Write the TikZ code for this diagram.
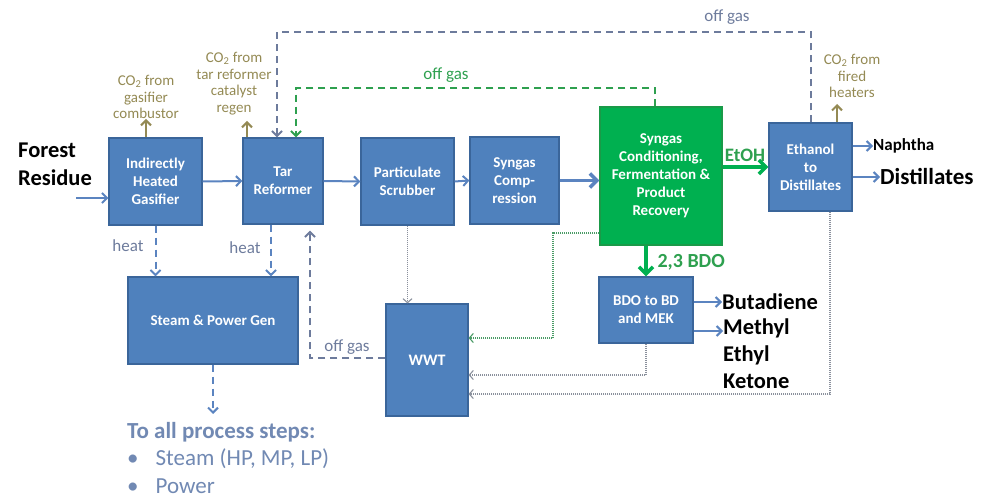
\documentclass[tikz,border=0pt]{standalone}
\usepackage{fontspec}
\setmainfont{Carlito}
\usetikzlibrary{arrows.meta}

\definecolor{boxblue}{HTML}{4F81BD}
\definecolor{boxline}{HTML}{3A659A}
\definecolor{boxgreen}{HTML}{00B050}
\definecolor{greenline}{HTML}{1A9A48}
\definecolor{flowblue}{HTML}{5B84C0}
\definecolor{gasgrey}{HTML}{6D7B9C}
\definecolor{gasgreen}{HTML}{2EA04F}
\definecolor{cotwo}{HTML}{948A54}
\definecolor{dotgrey}{HTML}{8A909C}
\definecolor{notecol}{HTML}{7189B3}

\begin{document}
\begin{tikzpicture}[x=1pt, y=-1pt,
    unit/.style={draw=boxline, line width=1.2pt, fill=boxblue, text=white,
        font=\fontsize{15}{18}\selectfont\bfseries, align=center, inner sep=0pt},
    flow/.style={draw=flowblue, line width=2pt, -{Straight Barb[length=5pt,width=10pt]}},
    bigflow/.style={line width=3.6pt, -{Straight Barb[length=7pt,width=14pt]}},
    offgas/.style={line width=2pt, dash pattern=on 7pt off 5pt, -{Straight Barb[length=5pt,width=10pt]}},
    waste/.style={draw=dotgrey, line width=1.1pt, dash pattern=on 1pt off 1pt, -{Straight Barb[length=4pt,width=9pt]}},
    emit/.style={draw=cotwo, line width=2pt, -{Straight Barb[length=5pt,width=10pt]}},
    co2note/.style={text=cotwo, font=\fontsize{15}{16.5}\selectfont, align=center, inner sep=0pt},
    gaslabel/.style={font=\fontsize{17}{20}\selectfont},
    product/.style={font=\bfseries, inner sep=0pt, anchor=west}]

    % Fix the page to the size of the reference
    \useasboundingbox (0,0) rectangle (988,502);

    % Process units (positions are the box centres)
    \node[unit, minimum width=93pt, minimum height=87pt] (gasif) at (155.5,181.5) {Indirectly\\Heated\\Gasifier};
    \node[unit, minimum width=80pt, minimum height=86pt] (tar) at (283,181) {Tar\\Reformer};
    \node[unit, minimum width=93pt, minimum height=87pt] (scrub) at (407.5,181.5) {Particulate\\Scrubber};
    \node[unit, minimum width=89pt, minimum height=87pt] (comp) at (514.5,180.5) {Syngas\\Comp-\\ression};
    \node[unit, draw=greenline, fill=boxgreen, minimum width=122pt, minimum height=138pt] (ferm) at (661,176)
        {Syngas\\Conditioning,\\Fermentation \&\\Product\\Recovery};
    \node[unit, minimum width=83pt, minimum height=88pt] (etd) at (810.5,167) {Ethanol\\to\\Distillates};
    \node[unit, minimum width=170pt, minimum height=87pt] (steam) at (213,320.5) {Steam \& Power Gen};
    \node[unit, minimum width=82pt, minimum height=112pt, font=\fontsize{16}{18}\selectfont\bfseries] (wwt) at (427,360) {WWT};
    \node[unit, minimum width=94pt, minimum height=66pt, font=\fontsize{15}{18}\selectfont\bfseries] (bdo) at (646,310)
        {BDO to BD\\and MEK};

    % Feed and products
    \node[font=\fontsize{22.5}{28}\selectfont\bfseries, align=left, inner sep=0pt, anchor=north west] (feed) at (18,143)
        {Forest\\Residue};
    \coordinate (feedin) at (76,198);
    \node[product, font=\fontsize{17}{18}\selectfont\bfseries] (naph) at (873,146) {Naphtha};
    \node[product, font=\fontsize{23}{26}\selectfont\bfseries] (dist) at (880,177) {Distillates};
    \node[product, font=\fontsize{22.5}{26}\selectfont\bfseries] (buta) at (722,302) {Butadiene};
    \node[product, font=\fontsize{22.5}{27}\selectfont\bfseries, align=left, anchor=north west] (mek) at (723,319)
        {Methyl\\Ethyl\\Ketone};

    % Main syngas train
    \draw[flow] (feedin) -- (feedin -| gasif.west);
    \draw[flow] (gasif.east) -- (tar.west);
    \draw[flow] (tar.east) -- (scrub.west);
    \draw[flow] (scrub.east) -- (comp.west);
    \draw[flow, bigflow] (comp.east) -- (comp.east -| ferm.west);
    \draw[bigflow, draw=boxgreen] (etd.west -| ferm.east) -- (etd.west);
    \draw[bigflow, draw=boxgreen] (bdo.north |- ferm.south) -- (bdo.north);
    \node[text=gasgreen, font=\fontsize{19}{20}\selectfont\bfseries, anchor=south] (etoh) at (745,165) {EtOH};
    \node[text=gasgreen, font=\fontsize{20}{20}\selectfont\bfseries, anchor=west] (bdolab) at (654,262) {2,3 BDO};

    % Product arrows
    \draw[flow] (naph.west -| etd.east) -- (naph.west);
    \draw[flow] (dist.west -| etd.east) -- (dist.west);
    \draw[flow] (buta.west -| bdo.east) -- (buta.west);
    \draw[flow] ([yshift=-12pt]mek.north west -| bdo.east) -- ([yshift=-12pt]mek.north west);

    % CO2 vents
    \node[co2note, anchor=south] (co2gas) at (146,119) {CO\textsubscript{2} from\\gasifier\\combustor};
    \node[co2note, anchor=south] (co2tar) at (234,115) {CO\textsubscript{2} from\\tar reformer\\catalyst\\regen};
    \node[co2note, anchor=south] (co2etd) at (852,98) {CO\textsubscript{2} from\\fired\\heaters};
    \draw[emit] (co2gas.south |- gasif.north) -- (co2gas.south);
    \draw[emit] ([xshift=-36pt]tar.north) -- ([xshift=-36pt]tar.north |- 0,121);
    \draw[emit] ([xshift=26.5pt]etd.north) -- ([xshift=26.5pt]etd.north |- 0,104);

    % Off gas recycles to the tar reformer
    \coordinate (ogtop) at (277,32);
    \coordinate (oggreen) at (296,88);
    \coordinate (ogwwt) at (310,358);
    \draw[offgas, draw=gasgrey] (etd.north) -- (etd.north |- ogtop) -- (ogtop) -- (ogtop |- tar.north);
    \draw[offgas, draw=gasgreen] ([xshift=-6pt]ferm.north) -- ([xshift=-6pt]ferm.north |- oggreen) -- (oggreen) -- (oggreen |- tar.north);
    \draw[offgas, draw=gasgrey] (wwt.west |- ogwwt) -- (ogwwt) -- ([yshift=-6pt]ogwwt |- tar.south);
    \node[gaslabel, text=gasgrey] (oglab1) at (727,17) {off gas};
    \node[gaslabel, text=gasgreen] (oglab2) at (446,75) {off gas};
    \node[gaslabel, text=gasgrey] (oglab3) at (347,347) {off gas};

    % Heat to steam and power
    \draw[offgas, draw=flowblue] (gasif.south) -- (gasif.south |- steam.north);
    \draw[offgas, draw=flowblue] ([xshift=-12pt]tar.south) -- ([xshift=-12pt]tar.south |- steam.north);
    \node[gaslabel, text=gasgrey] (heat1) at (128,246) {heat};
    \node[gaslabel, text=gasgrey] (heat2) at (245,248) {heat};

    % Utilities
    \coordinate (tosteps) at (213,414);
    \draw[offgas, draw=flowblue] (steam.south) -- (steam.south |- tosteps);
    \node[text=notecol, font=\fontsize{23}{27.5}\selectfont, align=left, anchor=north west, inner sep=0pt] (steps) at (127,422)
        {\textbf{To all process steps:}\\
         \textbullet\hspace{17pt}Steam (HP, MP, LP)\\
         \textbullet\hspace{17pt}Power};

    % Waste water streams
    \coordinate (wgreen) at (553,233);
    \coordinate (wgreen2) at (553,338);
    \coordinate (wbdo) at (647,375);
    \coordinate (wetd) at (830,394);
    \draw[waste] (scrub.south) -- (scrub.south |- wwt.north);
    \draw[waste, draw=gasgreen!70!dotgrey] (wgreen -| ferm.west) -- (wgreen) -- (wgreen2) -- (wgreen2 -| wwt.east);
    \draw[waste] (bdo.south) -- (bdo.south |- wbdo) -- (wbdo -| wwt.east);
    \draw[waste] (wetd |- etd.south) -- (wetd) -- (wetd -| wwt.east);

\end{tikzpicture}
\end{document}
